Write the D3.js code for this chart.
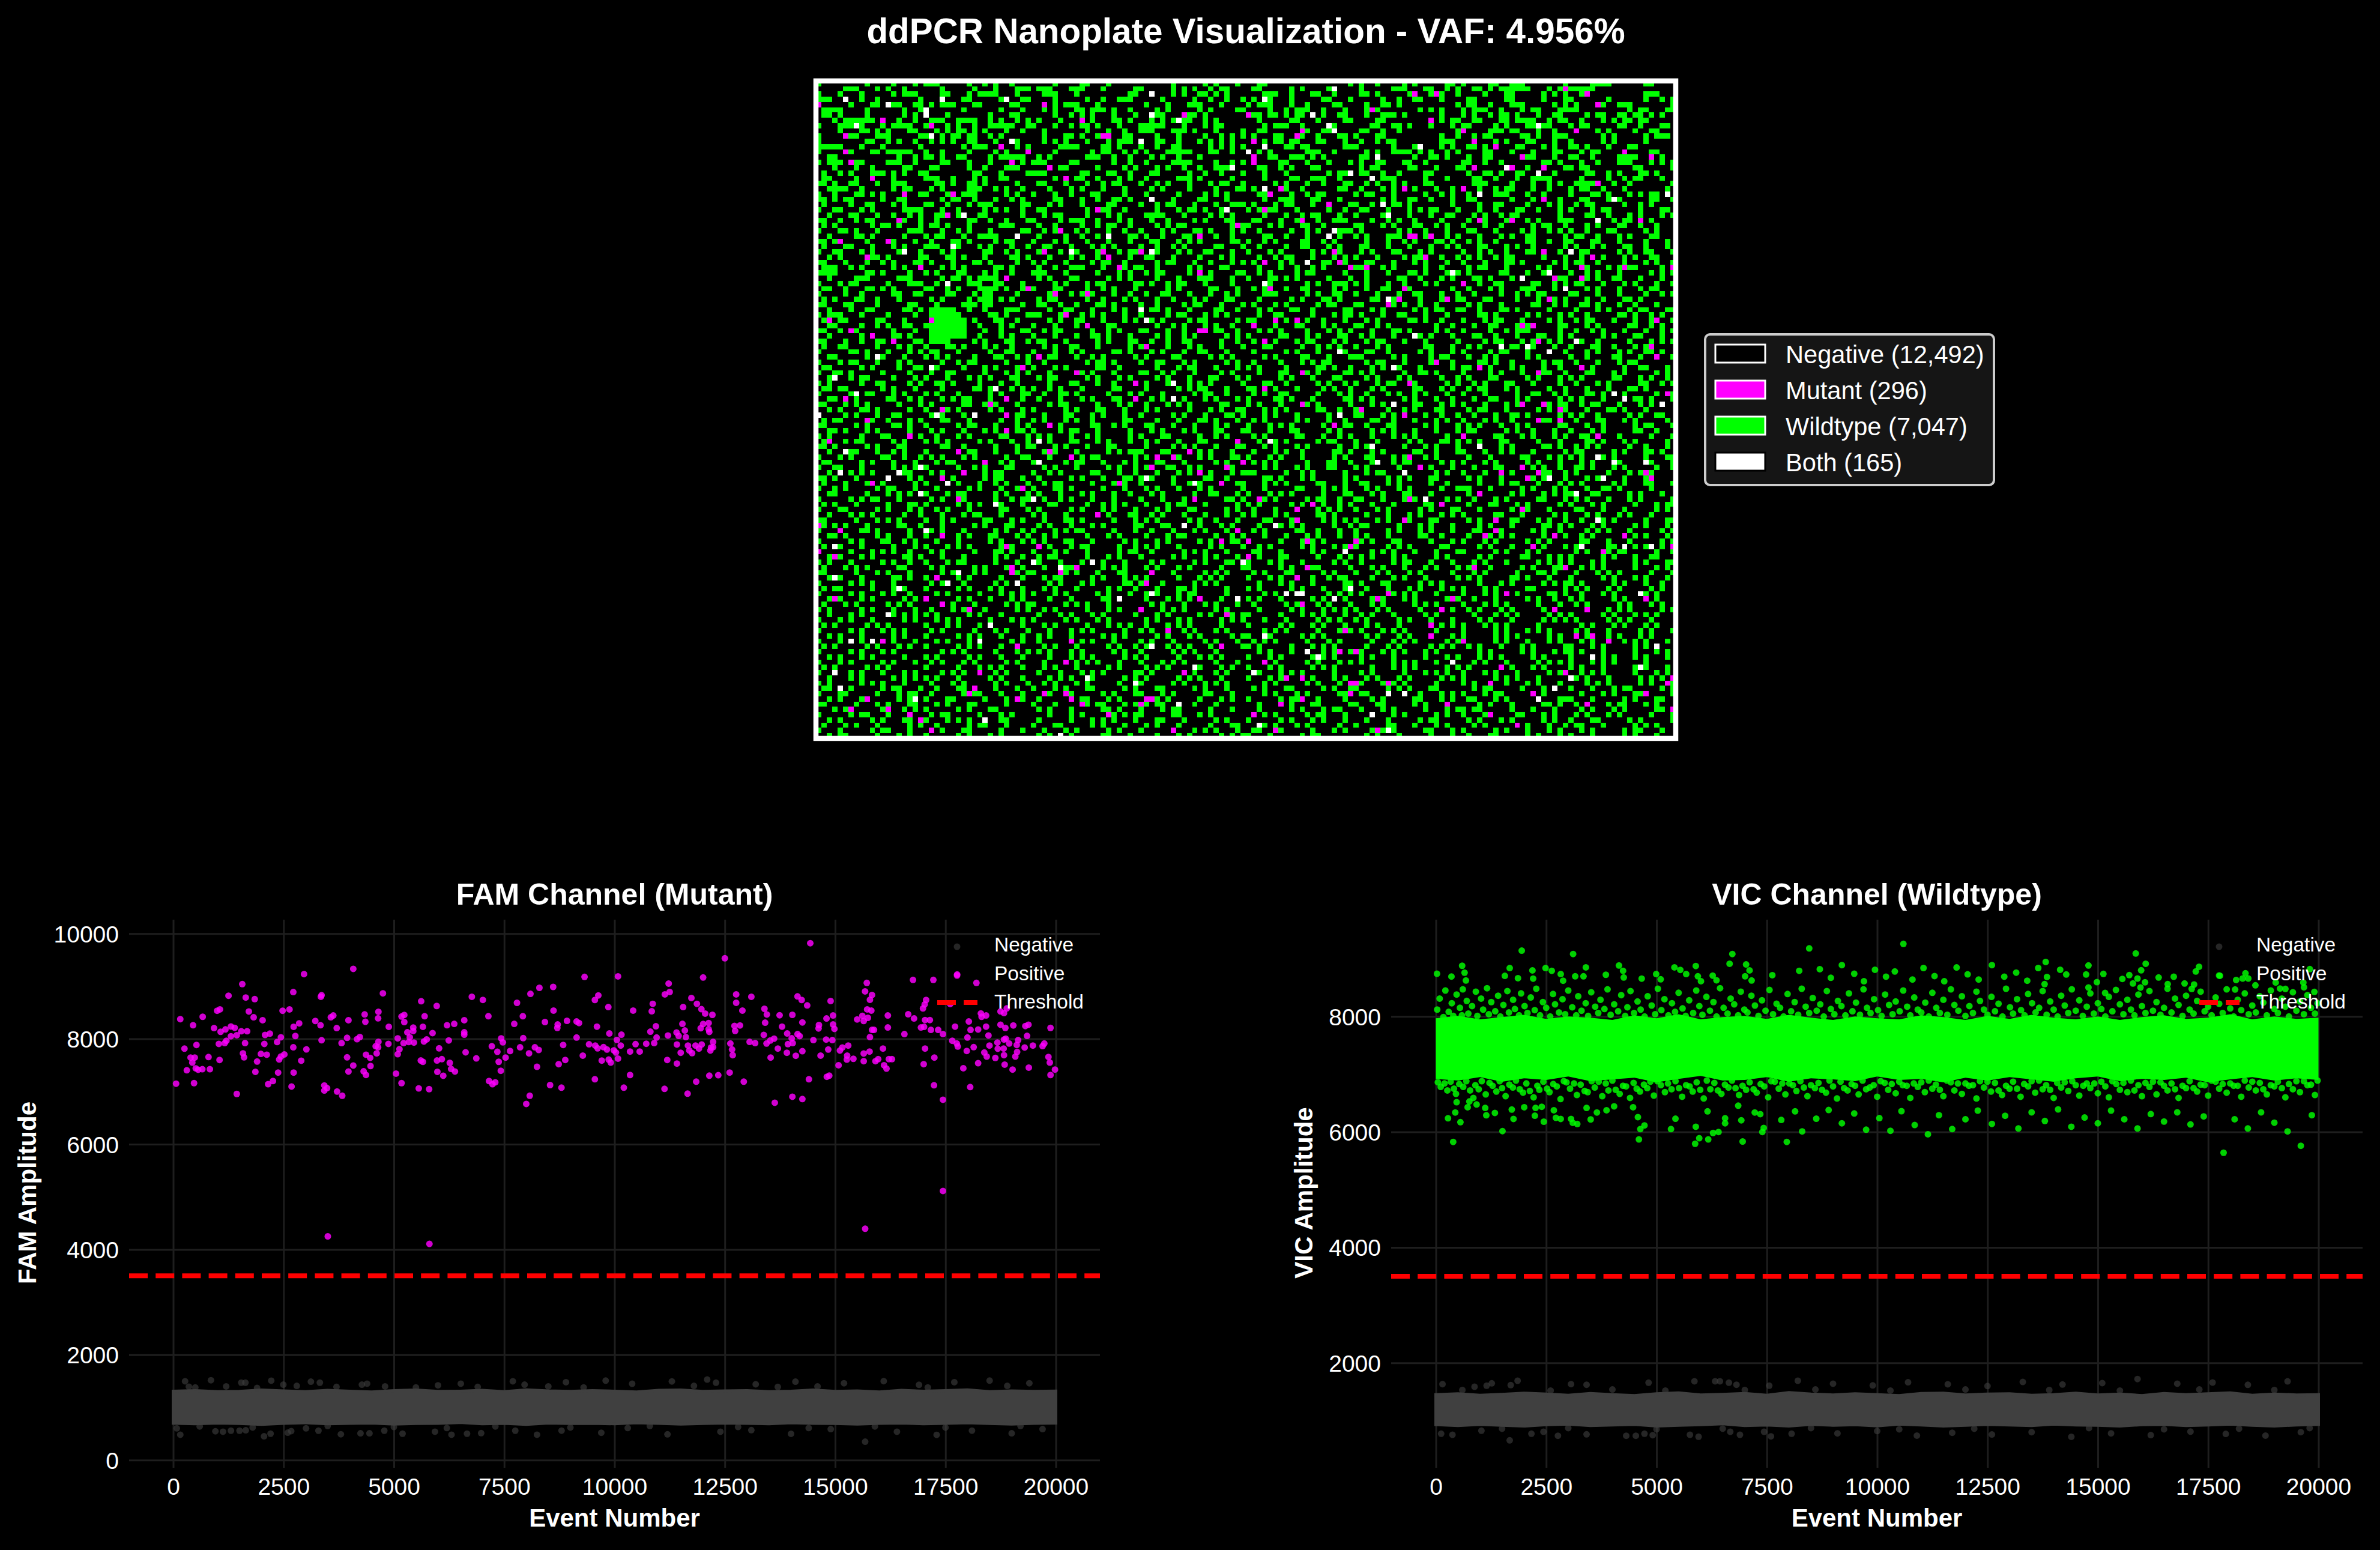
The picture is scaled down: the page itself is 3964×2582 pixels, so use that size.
<!DOCTYPE html>
<html>
<head>
<meta charset="utf-8">
<title>ddPCR Nanoplate Visualization</title>
<script src="https://cdn.jsdelivr.net/npm/d3@7"></script>
<style>
  body { margin: 0; background: #000; }
  svg { display: block; }
  text { font-family: "Liberation Sans", Arial, sans-serif; fill: #fff; }
</style>
</head>
<body>
<svg id="chart"></svg>
<script>
// Legend entries of the plate
const wellLabels = ["Negative (12,492)", "Mutant (296)", "Wildtype (7,047)", "Both (165)"];
const wellColors = ["#000000", "#ff00ff", "#00ff00", "#ffffff"];

// Mutant wells: column, row
const mutantWells = [35,37,39,39,44,40,50,40,46,44,2,45,21,45,50,46,6,47,71,47,10,48,14,49,61,50,41,52,38,54,48,55,59,57,5,60,35,60,59,60,32,61,23,62,35,63,9,64,43,65,35,66,17,67,2,68,78,68,26,70,43,70,69,70,47,71,63,71,66,71,31,72,62,73,76,73,27,74,71,74,23,75,10,76,56,76,75,76,38,77,26,79,70,79,52,82,0,84,4,85,78,85,23,86,75,87,35,88,41,88,0,89,3,90,36,92,48,92,36,93,45,93,62,93,22,94,61,95,3,98,20,98,71,98,23,99,28,100,60,100,76,101,65,104,12,106,47,106,37,107,75,107,46,110,30,112,68,112,29,115,28,116,42,116,46,116,9,117,37,117,47,117,61,117,62,117,49,118,60,118,6,119,13,119,17,120,54,120,19,121,21,123,66,123,
109,63,134,64,138,64,96,65,120,67,145,67,110,71,79,72,112,73,131,73,127,74,134,74,154,74,132,75,155,75,123,78,82,79,110,79,92,80,116,80,89,81,131,81,89,83,109,83,126,83,126,85,124,86,137,86,150,86,80,87,91,87,100,87,99,88,133,88,159,88,146,89,80,90,91,92,122,92,139,92,89,94,106,97,128,97,104,98,118,98,154,98,90,99,116,100,137,100,143,100,114,103,98,104,114,105,141,105,144,105,120,106,147,106,97,108,100,108,83,110,127,111,139,112,87,113,90,113,159,113,99,114,100,114,106,114,125,114,158,114,99,116,133,116,154,116,90,117,86,118,117,118,143,118,159,119,81,120,125,120,130,122,85,123,104,123,
139,1,111,2,115,2,143,2,145,4,103,5,68,6,80,6,114,7,90,9,120,9,141,9,89,10,54,10,81,11,122,11,126,12,150,13,81,14,131,14,155,14,81,15,122,16,129,16,135,16,145,19,86,20,109,20,120,20,84,21,135,22,95,23,83,24,90,26,123,26,129,26,153,26,78,27,71,29,110,29,111,29,114,29,60,32,96,32,135,32,54,33,113,33,144,33,83,34,97,34,56,35,99,35,102,35,142,35,150,35,159,35,71,36,137,37,142,37,120,38,84,39,109,39,108,41,117,41,136,41,106,42,85,45,89,45,156,45,81,46,131,46,133,46,72,47,83,49,134,49,61,50,155,50,156,52,115,53,123,54,142,54,90,55,134,55,59,57,110,57,83,58,158,59,59,60,90,61,131,61,135,61,101,62,138,62,
0,4,42,4,12,7,49,7,21,8,5,10,53,10,34,12,5,13,39,13,6,15,36,15,43,16,10,18,46,18,16,21,25,21,52,24,24,25,15,26,45,28,4,30,13,30,42,32,53,32,9,33,19,35];

// Wells positive in both channels: column, row
const bothWells = [24,38,60,43,61,45,11,52,21,54,3,56,66,57,33,58,7,59,66,60,0,63,22,63,29,63,41,68,5,70,41,72,19,73,4,74,15,74,13,75,61,75,24,76,70,76,19,78,40,79,33,80,68,84,20,85,3,88,40,91,51,91,45,92,26,93,3,94,24,95,37,95,15,96,62,97,56,98,78,98,13,101,32,103,6,106,10,106,30,106,62,107,70,111,3,112,50,113,59,114,4,115,18,117,67,118,31,121,45,124,
97,63,84,68,103,69,123,69,145,71,104,72,148,72,154,72,109,74,136,75,146,75,141,78,113,79,145,83,85,84,142,88,150,88,155,88,98,89,79,91,99,96,87,97,89,97,90,97,153,97,96,98,83,105,156,107,91,108,93,109,144,109,118,110,153,111,81,112,140,113,137,115,106,116,109,116,134,117,103,120,82,122,106,123,
96,1,62,2,83,3,62,6,92,6,67,7,95,8,134,8,96,9,60,11,83,12,112,12,80,13,104,14,77,16,128,16,99,17,134,17,103,18,83,20,123,21,158,21,62,22,148,22,105,23,76,24,106,25,145,26,96,28,54,29,95,29,62,32,140,32,91,34,118,36,136,36,131,37,83,38,139,39,106,41,60,43,61,45,111,48,141,49,127,50,132,50,97,51,136,51,107,54,66,57,148,59,66,60,150,60,107,61,157,61,
5,3,23,3,35,3,13,4,20,5,20,6,7,8,21,10,36,11,27,25,37,29,25,31,16,32,47,32];

// Wildtype wells: . none, g wildtype
// Spaces only group the row in blocks of 20 wells
const plateRows = [
// row 0
"g........g....g...g. ggg.....g..g.g..g.. .....g....gg...g.... .......g.....g.g...g ...gg...............g .g..g....g.g.....gg. g....gg..ggg.......g ....gggg......gg....",
".....ggg...g.g..g... ...g.....g...g...gg g.ggg...ggg...g..... gg.....g.g.g..g.gg.. ..gg.....g.g....g.... .g.....ggg...gg..g.g ..gg.g.gggggg...g.gg ggggg...............",
"g...g...g.....g.ggg. ...gg...g.gggg...g.. ..ggg...g.........gg ......g.g..gg.g.g... ...ggg..g...gg..g... .gg.g.....g...g.g..g ....g...gg.....g.g.g ..gg..........ggg...",
"ggg.....g..g.......g .......gg.....g...gg ....g.....g..g..ggg. ....g.....g..g..g..g .g..g...g.....gg...g .....g..g..gg...g... .gg.....gg.....g...g g......g......g..g.g",
"......g...gg.ggg..gg .g.ggg...gg.....gg.. ....g.ggg...g....... .g...g...ggg...g.... g.ggg...g..g....gg.. ..g..gg.g..........g .gg..g...ggg.....g.g .g...gg..ggg.......g",
".gggg....g......g..g .......g......g...g. ..g.g...gg.ggg.g..g. ...g.g.....g.g....gg ....g..g.ggg..g...g. ..ggg.......g.g.g... g.ggg..g...g.gg...gg gg.........g.gg...gg",
".gg.g....g......g.g. ....g.......g...gg.. ....g..g.g.g...g...g ...gg...ggg.g....... .gg.gg.g.gg.g.g..gg. ..g..ggg.g......g... g.g..g.gg.g...g..gg. ...g.gg..gg.gg.g.g..",
"...g.gggggg....g..g. .ggg..gggg..g.g..g.g .g...g.....g...gg.g. ..g.g.gggg..g.g..... ..g.....gg...g....gg ....gg..........g.gg ..gg...gg.gggg..g.gg ..g...g.g.gg.gg.....",
"g...ggggg...g.gggg.. g...g.g..g..ggggg..g g...g..g.gg.g...g... ggggg...g...g.gg.... ...g.ggg..g....gg... ...gg..gg.g...g...g. gg....g.g...gg.gg... g.gg.....gg..g...gg.",
"....g...gg.g.g...gg. ..g.g.gg.g.g...g..g. ..g.......g...g..g.. ggg...ggg.g...g....g ..gg.......g..gg.... .gg..g..g..........g g....ggg.gg...g..g.. .....g.g....g..gg...",
// row 10
"g.....gg...ggg.....g g..g.gg.gg..g.g..... ..g...gg.g..gg...gg. ...g...g....g..g.g.g .g...gg...g..g...gg. g...gg..........g..g ..g.gg.....gg.g..ggg ......g.g.....g.ggg.",
"g........gg..g.g..g. .g.g.g..gg...g..gg.. ..g.g.g...g...g.ggg. ...gg..g...g.g.g.g.. ...g.gg.gg...gg...g. .g..g.gg........ggg. ..g...g.g...gg...g.. g.....g.g.....g.....",
"ggggg...g...g......g .......g.ggg..g..g.g .....gggg....gg.g... g..g..gg.....g.g.g.g ...g...gg.gg......gg g......g...g....g.g. .gg.g.....gg...g.g.. gg.g...g...gg.......",
"g.....g...gg.ggggg.. g..g....g....g.g.... ....g......g.gg..g.g .g...ggggg...gg..g.. ..g.g......ggg..g... ..g.g..gggg.g.g..g.g ....gg...g...g...gg. ..g.gg.........gg...",
"..gg...........g..g. gg.g..gg....g.ggggg. .g.g......ggg..g..g. ..g.g..g...g........ ....gg..ggg.g.g..... .gg.g......g..gg.g.. .g..gg.....ggg...g.. gg..g....gggg....g..",
"g.ggg..gg....ggg..g. ...gg...g...g.....g. ggg....gg......g..g. .g....gggg....g..g.g ......gg...g...g...g .g..gg...gg..g...... gg..g..g.......gg.g. ..g..g...ggg...g.g.g",
"...g...g..g.....gg.. .gg.....g..g...ggg.. ...g.gg.....g....g.g ...g.g..g..g..gggg.. ..gg..g.g...gg...... .g.gg.....gg...g...g g.g......g..g..g...g g.gg........gg.....g",
".g..g.g...ggg.g.g..g g........gg...g....g ggg......gg...gg..g. ..gg.....g..g..g...g ...g...g.......g.gg. .gg..g..g....gg..... .g..gg.g..gg.....g.. ...gg..g.g...gg.g...",
".gg....g......g..... ggg..g...g.g..gg.... ....g...gg..g...g.g. .g.....ggg.g.....g.. ...g....gg..ggg..g.. ...g.ggg.....g...g.. ..gg..g...g..gggg... ..g....g..g.gg...g..",
"gg.g..gg...g..ggg... ..gg.g..gg.g.....g.. .gg...g...g..g.gg... g..g.g...g...g.gg..g .....g.g...g..g...gg ..g.g..g.g...gg..... ..ggg....g...g..g.g. .gggg...g..g.......g",
// row 20
"..gggg..g.....g.gg.. .g.g....ggg..g.g..g. ...g...g.g...g...g.. ..g.g....g....g...gg .g....gg..g......gg. .g...g.g...g...g..g. ...g..g.gg...g..g... g.gg..g...g.......g.",
"g..g...gg.g.g......g g...g..ggg.....g.g.. g...g..g...gg....g.. .g.....g....g.g.g... ..ggg...g..g.gg..... g.gg...g.....g..g.g. .g....ggg...g..g.... g...gg.g...g.g.gg...",
"gg.g.gg.....g..gg... ...g.gg..g...g..g.g. ....gg...g..g..gg.g. ..g...g....gg...g... ...g..ggg...gg...g.. .....g.g..gg..g...g. .gg......g...g.g..g. ..gg...g.g.....gg..g",
".g....g..gg...g.g... gg..g...g.ggg.....gg ...g.g...g....gg.... g..g.gg...g...g..ggg .g...g.gg...g......g g..g...gg.g.......g. ...g..gg....g...g.g. .g.gg.....g..g.g....",
"g..gg...g.g.....gggg ...g..g....g.g.g..g. .gg.......g..gg..g.. ...g...g.gg.g..g.... g.g.gg...g.....g..g. .gg...g...g.g.gg...g ...g..g...gg..g...g. g...g.gg.....g...gg.",
"..g...gg...g..g..g.g ..gg..g...gg......g. ..g.gg....g...g.g... .gggg...g....g.g.g.. ...g...g..g.gg...g.. g....gg...g...g..gg. ..g.g..g.gg.......g. ...gg..g...g.g...g.g",
"gg..g..g.gg.....g..g ..g.....gg..g..g...g g....g.ggg..g...g.g. ..g..g....g.g...gg.. .gg...g..g...g..ggg. ...g..g.g..g....g... .g.gg...g...g.g...gg g....g..g.gg...g....",
".g.g......g.gg.g...g .gg.g...g.....ggg... .g..g....g..g.gg..g. ...g.g.gg........g.g g...g.g...gg..g..... gg...g.g...gg..g.g.. g...g..g.....g.gg..g ...g.g...gg..g..g...",
"g...gg.g...g.....ggg ...g..g.g...g.....gg ..g.g...g.g...g..g.. g...g.g...gg.g...g.g ..g.....g..g.g...ggg .g......g.g..g...g.. .gg...g....g.g..g.g. g..g...gg.....g.g...",
"..g....gg.g.....g... g.gg...g..gggg...g.. .g....g..g..g.g...gg .g..g...gg....g..g.. ...gg..g...g...g.g.. g.g...ggg....g...g.g ...g...g.g..gg.....g .gg..g...g.g...gg...",
// row 30
"gg.g.....g...gg...g. .g...gg.g....g.gg... g...g.g...g...g...g. ..gg...g.g.g.....gg. g..g.g....gg..g.g... ..g...g..g.g...gg.g. .g.g..g.....gg..g..g g...gg...g....g...g.",
".g...gg...g...g.g... ggg...g...g.g...g..g ..gg...g...g.g.g.... g..g..g.g.....gg...g ..g....g..gg...g.g.. .gg...g...g...g..g.g ...gg...g.g..g.....g .g..g.g...gg..g...g.",
"g..gg...g.g....gg..g ...g.g.....gg..g.g.. .g...g.gg...g...g.gg ...g...g.g..gg...g.. g...g.g.....g.g.gg.. .g.g...gg...g.g..... g..g.g..g...gg....g. ..gg.....g.g..gg...g",
"..g.g.....gg.g.....g g...gg.g...g....gg.g ...g...g.g..g.g...g. .gg...g....g...g.g.. ..g..g.gg...g...g.g. g...g....g.gg...g..g .g.g..g.gg.....g...g ..g...g...g.g..gg...",
"gg...g...g..g.g...gg .g...g...gg.g....g.. g.g...g....g.gg..g.. ...g.gg...g..g...g.g .g....g.g.....gg..g. ..gg...g...g.g...g.. g...g...gg.g.....g.g .gg..g....g...g.g..g",
".ggg..g.g.....g.g..g ...g.g.g.....gg.g... .g..g..ggg...g...g.g g..g.....g.g...gg... ..g...g..g..g.g....g gg...g.g.....g..g... .g.gg...g.....g.g..g ...g...g.g.gg....g..",
"gggg.....gg.g....g.. g.g...gg...g.g..g... ggg...g.....g...g.g. .g.gg....g...g....gg ..g.g....g.gg.....g. ..g...g...gg.g...g.g .g.....gg...g..gg... g..g.g...g.....g.g.g",
"..g....ggg.....ggg.. ...g.gg.g.gggg...... .g.g...gg.....g.g.g. ...g...g...ggg...g.. g...gg.g.g.....g...g ..g.....gg..g...g.g. ..gg.g...g.g......gg ...g.g..gg...g...g..",
"g...g.gg.....g...ggg ..g.g...ggg..gg...g. ....g.g...g.gg.....g g.g..g.gg...g....g.. ...gg......g.g..ggg. g.g...g..g...g.g.... ...g..gg.....gg..g.g .gg...g...g.g...g..g",
".gg..g...gg.g.g..... gg..g.g...gggg.g..g. g...gg....g..g.g...g .....g.g.....gg...g. .g.g...g..gg....g.g. ..g..gg...g.......g. .g...g.g...ggg...g.. ...g.g...g...g.gg...",
// row 40
"g....g..g.....gg..gg ....gg...g.gg....g.. ...g...g.ggg...g..g. .g..gg...g...g..g.g. ...ggg.....g.g..gg.. g...g...g..gg...g..g ..g....g..g.g.gg.... gg...g...g....g..g.g",
".g.g...gg..g...g.... .g.g....g.ggg.g.g... .g.gg.....g..g...g.g ...g..g...g.g...gg.. ..g.....g.g...gg.g.. ...gg..g....g...g..g g...gg....g...g..g.g ...g..g...gg.g......",
"gg...gg....g.....gg. ..g....ggg.gg.....g. .gg..g..g...gg.g.... g..g....g.gg...g...g .g...g.g.....g.gg... gg....gg.g..g..g.... .g.g...g.....gg..g.g ..gg.g...g..g...g...",
"..g...g..gg.....gg.g .ggggg..g..g...ggg.. ...g..gg...g...g.g.. ..gg.g...g....gg..g. ..g.g...gg..g.....gg ...g.g.....g.g.gg..g g..g...gg.g.....g... .g...g.g...g.gg...gg",
"g.ggg...g....g....g. .gggggg.....gg.g...g gg...g...g.g.g...g.. g....g.gg...g.g.g... ..g..gg.....g...g.gg .g...g..gg...g...g.. ...gg.g.....g.g...g. g..g.....gg.g..g.g..",
".g..gg.....gg...g... .ggggggg.g...gg..g.. ...g.g..gg...g...g.g ..g.g....g.gg.....g. gg...g.g...g..g...g. ..g.g.....gg.g..g... g...g.gg...g....g.g. .g.gg...g...g..g...g",
"..gg....g..g.g..gg.. gggggggg..g...g.g... g...g...g.g...gg.... ...g..g.g...g.g..g.. .g...g...gg...g.g... gg..g.g........g..g. ..g..gg...g.g.....gg ...g.g.....gg..g.g..",
"gg..g.gg......g...g. .ggggggg...g..g...gg ..g.gg.....g..g.g... gg...g..g.....gg..g. ..g.g.g....g...g.g.g ...g...gg.g....g.g.. g....g..g.ggg.....g. .g..g.g...g...g..g.g",
"..g.....g.g...gg.g.. .ggggggg..g...g.g... g...g...g..gg.g...g. ...g.g..g.g.....g.g. g.....gg...g.g...gg. .g.g...g....g.g...g. ..gg..g...g...gg..g. g.....g.g...gg...g..",
"gg...g..g..gg.....gg .gggg....g.g...gg..g .gg...g.....g.g...gg ..g..g..gg.....g..g. .g...g...g.gg...g.g. ..g.gg...g...g.....g ....g.gg...g.g..g.g. .gg..g.....g...g.g.g",
// row 50
".g..gg.....g...g.g.. g...gg.g...g.g..g... ..g.g..gg...g.....g. gg...g...g.g...g...g ...gg.....g..g.g.g.. g...g.g......gg...g. .g.g.....gg..g...g.. g...gg..g...g.g.....",
"g.....gg.g...g...g.g .gg...g.....g..gg... g...g..g.g.....gg.g. ..g.g...g..gg...g... .g.....g.g...g...gg. ..gg..g.....g.g...g. g....g.gg...g...g..g ...g.g...g.g..gg.g..",
"..gg.....g.gg...g... g.g.g....g...gg..g.g ...gg...g..g.g.....g .g....gg.....g.g.g.. ...g.g....gg...g...g gg.....g.g....g.gg.. .g..g.g.....g.g..... g..g....gg...g..g..g",
"g...g.gg...g...g.g.. ...g..g.gg.....g...g ..g.......g.gg.g.... g..gg...g.g.....g.g. .g....g...g.g.gg.... ..g.gg...g....g...g. ...gg.g..g.....g.gg. .g...g...g.gg.......",
".gg.....g.g....g..gg ..g....g...g.g...g.. g...g.g.....gg..g... ...g...g.gg...g...g. g.g....g.....gg.g..g ...g.g.gg...g.....g. gg...g...g.g...g..g. ..g.g.....g..gg...g.",
"g..gg.g.....g....g.. .g..gg.....g...g.g.g ...g....gg.g...g.... gg..g.g...g....g.g.. ..g...gg...g.g....gg .g.g.....g..gg.g.... g....g.g...g...gg..g ...gg...g.g.....g.g.",
"..g...g.gg....g...g. g...g...g.g.g...gg.. .g.gg.....g.g...g.g. ...g.g...g...gg...g. g.....g.g...g...gg.. ..g.g...g.g.....g..g .g...gg.....g.g...g. g.g.....gg...g.g..g.",
"g.g.....g..gg....g.g ..gg.g....g...g..g.. ...g...gg...g..g...g .g...g...g.g.g.....g ...gg..g.....g.g..g. g...g.gg...g.....g.g ..g.g...gg...g....g. .g...g.g.....gg..g.g",
".gg.gg......g.g...g. ...g.....gg.g...g.g. g..g.g...g.....gg... .g.....g.g.gg...g... gg...g...g....g.g..g ...g.g.....gg...g.g. .g.gg...g.g.....g..g ...g...g...gg.g.....",
"g.....g..gg...g.g... g.g...g.....g.g...gg ..g..gg.g.....g...g. g...g.....g.gg..g... .g.g..gg.....g...g.g ..g...g.g..g.g...g.. g...g.....g..gg..g.g ...gg.g...g.....g.gg",
// row 60
"..gg...g.....gg..g.g ...g.g.gg...g.....g. .g...g...g.g...gg... ..g.g...g...g.g...g. g....gg.g...g.....gg .g.g.....g.g...g..g. ..g..gg...g.g.....g. g.g...g.....gg.g...g",
"gg...g.g.g.....g...g .g.....gg..g.g...g.. ...g.gg.....g...g.g. .g...g.g.g.....gg... g.g...g...gg.g.....g ...g.g.....gg...g.g. g...g...g.g.....g.gg ..g.gg...g...g.g....",
"..g.g...gg.g.....g.. g..gg.g.....g.g...g. g.....g.g...gg...g.. .g.g.....g...g.g..gg ...g.g.g.....gg..g.. g.....g..g.g...gg... .g.gg...g.....g.g..g ...g...gg.g...g.....",
"g....g.g...g..gg.... .g.g...g.g.....g.gg. ..g...gg...g.g...g.. g.....g.g...g...gg.g ...g.g...g.....g.g.. gg...g.g.....g..g..g ..g...g..gg.g.....g. g.g..g.....g.g..gg..",
".g.gg.....g..g...g.g ...gg...g.....g..g.. g.g...g.g..g.....gg. ...g...g...gg.g...g. .g.g.....g.g...g..g. ...gg..g...g...g.g.. g...g.g..g.....gg... .g...gg...g.g.....g.",
"gg.....g.g....gg.g.. g.....g.gg...g...g.g ...g.g.....gg..g.g.. .gg...g...g...g.g... g...g.g.g.....g...gg ..g...gg.....g.g...g .g.g...g..g.g.....gg ...g..g.....g.gg...g",
"..gg.g...g.g.....g.. .g.g...g...g.g...gg. g....g.gg...g.....g. ..g.g...g.g...gg...g g...g...gg.....g.g.. ...g.g.g...g...g...g .gg.....g.g..g...g.. g...g.g.....gg..g...",
"g.g.....g...gg...g.g ..g...g.g.....gg...g .g.g...g..g.g.....g. g...gg.....g..g.g... .g.g.....gg...g..g.g ...g...g.g.g.....g.. g.....gg...g.g...g.g ..gg.g...g.....g...g",
".g...g.gg.....g.g... g.g.g.....g.g...g..g ...g...gg...g.g...g. .g.g...g...gg.....g. ..g..g.g.....g.gg... g...g.....g.g...gg.g .g.g...gg.....g...g. ...gg.g...g.g.....g.",
"gg.g.....g.g...gg... ...gg..g.....g...g.g g...g.g...g...gg.... .g....g.g.g...g...gg ...g.g...g.g.....g.. g.gg.....g...g.g...g ...g...g.g.....gg.g. .g.g.g.....g..g...g.",
// row 70
"..g...gg...g..g.g... g.....g.gg...g...g.. ..g.g...g.....g.g.gg g...gg.....g.g...g.. .g...g.g..g.....gg.g ...g.g.....gg..g...g g...g..g.g...g.....g .gg.....g.g...gg.g..",
"g...g.g.....gg..g..g .g.g...g.g.....g..gg ...g...g.g.gg......g .g.....g...g.g...gg. g...g.g...g.....g.g. ..gg...g.g...g.g.... .g...g.....gg...g.g. g.g...g.g.....g...gg",
".gg.....g.g...g...g. ..g.gg.....g..g.g... g.....g.gg...g...g.g ...gg...g.....g.g... .g.g.g.....g...gg..g ...g...g.gg.....g.g. g...g.g.....g.g...g. ..g.g...gg.....g...g",
"g..gg...g.....g.g.g. g.....g..g.g...gg... ..g.g...g.....g.g..g .g...gg..g.g.....g.. ...g.g...g.g...gg... g.g.....g...g.g...g. ..g...gg.....g.g..g. .gg.g...g.g.....g..g",
"..g...g.g.g.....gg.. .g.g...g...g.gg..... g..g.g.....gg...g..g ...g...g.g...g...g.g gg.....g..g.g.....g. ..g.gg...g.....g.g.. g...g..g.g.....gg..g .g.....g...g.g.g....",
"gg.g...g.....g...g.g ...g.g.....g.gg...g. .g.....g.g...g...gg. g.g...g.....gg..g... ...gg.g...g.g.....g. g.....g.g.g...gg.... .g.g...g.....g.g...g ...g.gg...g...g.....",
".g...g...gg.g.....g. g...g.g...g..g.g...g ..g.gg.....g...g.g.. g.....g..g.g...g..gg ...g.g.g.....gg...g. .gg...g.g.....g..g.. ...g...g.gg...g...g. g.g.....g.g...gg...g",
"g..g.g.....g.gg...g. ..g.....g.g...g..gg. g...gg.g.....g...g.. .g.g...g...g.g.....g ...g.....gg...g.g.g. ..g.g...g.g.....g..g gg...g.....g.g...g.g ...g..gg.g.....g....",
"..gg.....g...g.g.g.. g...g.gg.....g.g...g .g...g...g.g...g..g. ..g.g.....g..gg...g. g...g.g.g.....g...gg ...g.g...gg...g..... .g.g.....g.g...g.g.g g...gg.....g.g...g..",
"g.....g.g.gg...g.... .g.g...g.....g..g.gg ..g..g.g...g...g.... g...g...g.g.....gg.g ...g.g.....g.gg..g.. gg...g...g.g.....g.g ..g...g.g.....gg...g .g.g...g...g.g.....g",
// row 80
".g.g...g.....g...gg. g.....g.g.g...g...g. ...gg.....g..g.g.g.. .g...g.gg...g.....g. g.g.....g.g...g..g.g ...g...g.....gg.g... .g...gg...g.g.....g. g...g.g.....g...g.gg",
"g...gg.....g.g...g.g ..g.g...g.....gg...g .g.....g.g...g.g...g ...g.g...gg.....g.g. .g...g...g...g.g.g.. g...g.g.....g.g...gg ...g.....g.gg...g... .gg...g...g.....g.g.",
"..g...g.g.g.....g..g ...g...g.gg...g..... g.g...g.....g.g...gg ..g.g...g...g...g..g .g...g.g.....gg.g... ..g...g...g.g...g.g. g.....gg...g.....g.g ...g.g...g.g...g....",
"gg.....g...g.g.g.... g..g.g.....gg...g.g. ..g...gg.g.....g...g .g.g.....g.g..g...g. ...gg...g.....g.g.g. g...g.g...g...gg.... .g.g.....gg...g.g..g ..g...g.g.....g...gg",
".g.g.g...g.....gg..g ...g.....g.g...gg... .g.g...g...g.g.....g g...gg.....g...g.g.. ..g...g.g.g.....g..g .gg.....g...g.g...g. ...g.g...g.....gg.g. g...g.g.....g.g...g.",
"g...g...gg.g.....g.. .g.g...g.....g.g..g. g...g.g.gg.....g...g ..g...g...g.g...g.g. .g.g.....gg..g...g.. g.....g.g...g.g...g. ..gg...g.....g.g..g. ...g.g.g...g.....g.g",
"..gg.g.....g.g...g.. g.....g.g...gg...g.g ..g.g.....g...g.g... .g...g.gg.....g..g.g ...g...g...g.g...g.. g.g...g.....gg..g... .g...g.g.g.....g...g ..g.g.....g.g.g...g.",
"g.....g.g...gg..g.g. ..g...g.....g.g...g. g.g...gg...g.....g.g ...g.g.....g.g...gg. g.....g...g.g.g..... .g.g...gg.....g...g. g...g.g.....g.g.g... ..gg...g...g.....g.g",
".g.gg...g.....g...g. g...g.g.g.....g.g... ...g...g.gg.....g..g .g.g...g.....g.g...g ..g.g.....g.g...g.g. g.....g.g.g.....gg.. ...g.g...g...g.g...g .g.....gg...g.g..g..",
"g.....g...g.g.g..g.. .g.g.....g...gg.g... g...g.g...g.....g.gg ..g.....g.g.g...g... .gg...g.....g.g...g. ...g.g.g...g...g...g g.....g.g...g.g..... .g.g...g.gg.....g..g",
// row 90
"..g.g...g.g.....gg.g ...g...g.....g.g..g. .g.gg.....g...g.g... g.....g.g...g.g...g. ..g...gg.....g...g.g .g.g...g.g.....g.g.. ...g.g.....gg...g.g. g.....g.g...g..gg...",
"g.g...g.....g.g..g.. g...g.gg.....g...g.. .g...g...g.g.g...g.. ..g.g.....g.g...gg.. g...g.g...g.....g.g. .g.....g.gg...g...g. ..g.g...g.....g.g.g. g...g.g.....g.g...gg",
".g...g.g.g.....gg... .g.g.....g.g...g..g. ..g...gg.....g.g.g.. .g.g...g.g.....g...g g.....g.g...gg.....g ...g.g...g...g.g...g .g...g.....g.g...gg. ..g.g.g.....g...g.g.",
"gg.....g...g.g...g.. ...g.g...g.g.....g.g g.....g.g...g...gg.. ..g...g.....g.g.g... .g.g...gg.....g.g... g...g.g...g.g.....g. ..g.g.....g...gg.g.. .g...g.g.g.....g...g",
"..g.g...g.....gg.g.. g.g...g.g.....g...g. ..g.gg.....g.g...g.g .g.....g...g.g.g.... g...g.g.....g..g.gg. ...g...g.g...g.....g .g.g.....gg.g...g... g.....g.g...g.g...g.",
"g.....g.g.g...g..... .g.g...g.....g.g.g.. ...g.g...g.g.....gg. g...g.....g.g.g..... ..g...g.g...g.....gg .g...gg.....g.g.g... ...g...g.g.....g.g.g g.g.....g.g...g..g..",
".g.gg.....g...g.g... g.....g.g...g.g...g. ..g.g...g.....g.g..g ...g...gg.g.....g... g.g.....g.g...g...g. ..g...g...g.g...g.g. g...g.g.....gg.....g .g.g...g.g.....g.g..",
"g.....g.g...g.g..g.. ..g.g.....g...g.g.g. g...g.g.....g.g...g. .g.g...g.gg.....g... ...g.g...g.....g.g.g .g.....g.g.g...g.... g...g.g...g.....gg.g ..g...g.g.....g.g...",
"..g.g...g.g.....g.g. g.....g.g...g...g.g. ...g...g.....gg.g... .g...g.g.g.....g..g. g.g...g.....g.g...g. ...g.g...g.g.....g.g ..g...g.....g.g..g.. g.g.....g.g...g.g...",
".g...g.g.....g.g.g.. ...g.g...g.....g.g.g g.....g.g.g...g..... ..g.g...g...g.g...g. .g.....g.g...g.g...g ...g.g.....g.g.g.... g...g.g.g.....g...g. .g.g.....g.g...g.g..",
// row 100
"g.g.....g.g...g...g. .g...g.g...g.....g.g ..g.g.....g...g.g... g...g.g.g.....g.g... ..g.....g.g...g.g.g. g...g.g.....g...g.g. .g.g...g.g.....g.g.. ...g...g.g.g.....g.g",
"..g...g.g.....g.g.g. g.g.....g.g...g..... .g...g.g...g.g.....g ...g.g.....g.g...g.g g.....g...g.g.g...g. .g.g...g.....g.g.... ..g...g.g.g.....g.g. g.....g.g...g.g.g...",
"g...g.g...g.....g.g. ..g.g.g.....g...g.g. g.....g.g...g.g..... .g.g...g.g.....g.g.g ...g...g.....g.g.g.. g.g.....g.g...g...g. ...g.g...g.....g.g.g .g.....g.g.g...g....",
".g.g.....g.g.g...... g...g.g...g.g.....g. ..g.g.....g...g.g.g. .g...g.g.g.....g.... g.....g.g...g.g...g. ..g.g...g.....g.g.g. g...g.g.g.....g..... ..g.g...g.g...g.g...",
"g.....g.g...g.g.g... .g.g.....g...g.g...g ...g...g.g.g.....g.. g.g.....g.g...g.g... ...g.g.g.....g...g.g .g...g.g.g.....g.... g.....g.g...g.g.g... .g.g...g.....g.g...g",
"..g.g...g.....g.g... g.....g.g.g...g...g. .g.g...g.....g.g.g.. ...g.g...g.g.....g.g g...g.....g.g.g..... ..g.g...g.g...g...g. g.....g.g.g.....g.g. ...g...g.g...g.g....",
"g...g.g.g.....g...g. ..g.g...g.g.....g.g. .g.....g.g.g...g.... g.g...g.....g.g...g. .g.g.g.....g...g.g.. ...g...g.g.g.....g.g g.....g.g...g...g.g. ..g.g.....g.g.g...g.",
".g.g.....g.g...g.g.. g.....g.g.g...g..... ..g.g...g.....g.g..g .g...g.g.g...g.....g g.g.....g...g.g.g... ..g...g.g.....g.g.g. .g.g...g...g.g.....g g...g.g.....g.g.g...",
"g.....g.g...g.g..... ...g.g.g.....g...g.g .g.g...g.g.....g.g.. g.....g.g.g...g..... ..g.g...g.....g.g..g .g...g.g.g...g.g.... ...g.g.....g.g...g.g g.g...g.....g...g.g.",
"..g.g...g.g.....g... g.g.....g.g...g...g. ...g...g.g.g.....g.g .g.....g...g.g.g.... g...g.g.....g.g.g... .g.g...g.....g...g.g ...g.g.g.....g.g.... g.....g.g...g.g...g.",
// row 110
"g...g.g.....g.g...g. .g.g...g.g.....g.g.. ..g.....g.g.g...g... g...g.g.g.....g...g. ...g.g.....g.g...g.g .g.....g.g.g...g.... ..g.g...g.....g.g.g. g...g.g.g.....g.....",
".g.g.....g.g.g...... g.....g...g.g.g...g. ..g.g...g.....g.g... .g.g.g.....g...g.g.. g...g.g.....g.g.g... ...g...g.g.g.....g.g .g.....g.g...g.g.... g.g...g.....g.g...g.",
"g.....g.g...g...g.g. ...g.g.g.....g.g.... .g...g...g.g.g.....g g.g.....g.g...g.g... ..g...g.g.g.....g... .g.g.....g...g.g.g.. g...g.g...g.....g.g. ..g.g.g.....g...g.g.",
"..g...g.g.....g.g.g. g.g...g.....g.g...g. ...g.g.g...g.....g.g .g.....g.g.g...g.... g...g.g.....g...g.g. ..g.g...g.g.....g.g. g.....g.g.g...g..... .g.g...g.....g.g.g..",
"g.g.....g.g.g...g... .g...g.g.....g.g...g ..g.g...g.g.....g... g.....g.g...g.g.g... ...g.g.....g.g...g.g .g...g.g.g.....g.... g.g.....g...g.g...g. ...g.g.g.....g.g...g",
".gg...g.....g.gg...g ..g...gg.....g...g.. g...g.g...gg.....g.g ...gg.....g.g...g... .g.g...gg.....g.g..g g.....g.g.g...gg.... ..g.gg.....g...g.g.. g...g...g.gg.....g.g",
"g...gg.....g...g.gg. .g.....g.gg...g...g. ..gg...g.....g.g...g g...g.g.....gg...g.. ...g.g...g.g.....gg. .gg...g.....g...g.g. g...g.gg.....g.g.... ..g...g.g...gg.....g",
"..g.g...gg.....g.g.. g...gg.....g...g.gg. .g.....g.gg...g.g... ..gg.g.....g...g.g.. g.....g.gg...g....g. ...g.g.....gg...g.g. .gg...g.g.....g...gg g...g.....g.g...gg..",
"gg.....g...g.g...gg. ..g.g...gg.....g.... g...g.....g.gg...g.g .g.gg.....g...g..... ..g...g.g...gg.....g g...gg.....g.g...g.. ...g.g...g.....gg.g. .g.....g.gg...g.g...",
"...g.gg.....g...g.g. g.....g.g...gg...... .g.g...g.....gg.g... g...g.gg.....g...g.. ..g.....g.g...g.gg.. .g...g.g.....g...g.g g.gg.....g...g...g.. ..g.g...g.g.....gg..",
// row 120
"g.....g.gg...g...g.. .g.gg.....g...g.g... ...g...g.g.....g.g.g g.....gg...g.g...... .g.g.g.....g.gg...g. ...g...g.g.....g.g.. g...g.....gg...g.g.. .g.g...g.g.....g...g",
"..g.g.....g.g...gg.. g...g.g.g.....gg.... .g.....g...g.g.g...g ...gg...g.....g.g... g.....g.g...g.g...g. ..g...g.....g.gg.... .g.g...g.g.....g.g.. g...gg.....g.g.....g",
".g...g.g...g.....g.g ..g.....g.gg...g.... g...gg.....g.g...g.. .g.g...g.....g...gg. ...g.g...g.g.....g.. g.....gg...g...g.g.. ..g.g.....g.g...g..g .gg...g.....g.g.g...",
"g...g.....g.gg...g.. .g.g...gg.....g...g. ..g...g.g.....g.g... g.....g...g.g.g...g. .gg...g.....g...g.g. ...g.g.g.....gg...g. g.....g.g...g...g.g. ..g.g.....g.gg...g..",
"..g.gg.....g...g.g.. g.....g.g...g.g..... .g.g...g.....gg...g. ...g...g.g.....g.g.g g...g.....g.gg...... ..g.g...g.....g...g. .g...gg.....g.g...g. g...g.....g.g...g..."
];

// Tick values of the axes
const eventTicks = [0, 2500, 5000, 7500, 10000, 12500, 15000, 17500, 20000];
const famAmpTicks = [0, 2000, 4000, 6000, 8000, 10000];
const vicAmpTicks = [2000, 4000, 6000, 8000];
const thresholdValue = 3500;

// Event numbers of the band envelopes
const bandEvents = [0,500,1000,1500,2000,2500,3000,3500,4000,4500,5000,5500,6000,6500,7000,7500,8000,8500,9000,9500,10000,10500,11000,11500,12000,12500,13000,13500,14000,14500,15000,15500,16000,16500,17000,17500,18000,18500,19000,19500,20000];

const famNegLow = [700,690,705,695,680,700,710,690,700,705,685,695,700,715,690,700,680,705,695,700,690,710,700,685,695,705,700,690,710,700,695,685,700,705,690,700,710,695,685,700,705];
const famNegHigh = [1310,1320,1300,1305,1330,1315,1300,1325,1310,1295,1320,1330,1305,1310,1325,1300,1335,1315,1305,1320,1310,1295,1325,1330,1305,1315,1320,1300,1310,1330,1305,1315,1295,1325,1310,1320,1335,1300,1315,1305,1310];
const vicNegLow = [930,915,935,920,905,930,940,915,925,935,905,920,930,945,915,925,905,935,920,930,910,940,925,905,920,935,925,915,940,925,920,905,930,935,915,925,940,920,905,925,935];
const vicNegHigh = [1450,1465,1440,1455,1475,1460,1440,1470,1450,1435,1465,1480,1445,1455,1470,1440,1485,1460,1445,1465,1450,1435,1470,1475,1445,1460,1465,1440,1450,1475,1445,1460,1435,1470,1450,1465,1480,1440,1460,1445,1450];

const vicPosLow = [6920,6890,6950,6870,6930,6900,6960,6880,6910,6940,6860,6920,6970,6890,6900,6950,6870,6930,6910,6880,6960,6900,6920,6860,6940,6890,6950,6910,6870,6930,6960,6880,6920,6900,6940,6860,6910,6950,6890,6930,6900];
const vicPosHigh = [7970,8010,7950,7990,8030,7960,8000,7980,7940,8020,7970,8040,7950,7990,8010,7960,8030,7980,7940,8000,7970,7950,8020,7990,7940,8010,7960,8030,7980,7950,8000,7940,7990,8020,7960,7980,8040,7950,8000,7960,7980];

// Negative droplets outside the dense part: event, amplitude
const famNegative = [269,1498,855,1517,2221,1509,1542,1471,1636,1471,355,1395,2495,1433,3120,1490,3323,1471,4393,1452,4276,1433,6517,1452,7696,1498,7962,1433,81,604,160,483,956,548,1128,540,1308,559,1503,559,1644,567,2058,453,2206,502,2596,521,2674,551,3010,604,3291,559,3799,491,4244,510,4447,510,4783,559,5197,502,5931,540,6306,483,6658,502,6978,513,7751,559,8243,483,8900,1480,9800,1510,10400,1450,11300,1495,12100,1530,12300,1470,13200,1440,14100,1490,15200,1460,16100,1500,16900,1430,17700,1480,18500,1510,19400,1460,8800,560,9700,520,10300,610,11200,490,12400,540,13100,570,14000,500,14900,590,15680,350,16400,540,17300,480,18100,560,19000,510,19700,590,500,1380,1200,1400,1900,1370,2800,1410,3700,1390,4800,1400,5500,1380,6000,1420,6900,1390,8500,1400,9300,1380,11800,1410,13700,1390,14600,1400,17100,1380,18900,1410,600,640,1800,620,3500,650,5000,630,6200,610,7300,640,9000,620,10800,650,12800,630,14400,610,15900,640,17500,620,19200,650];
const vicNegative = [150,1632,1852,1691,1696,1615,1267,1646,1150,1605,876,1587,3063,1632,3415,1622,4820,1657,5859,1681,6328,1681,6437,1681,6640,1657,6812,1622,7554,1605,8202,1691,119,773,376,755,1673,658,1032,825,2165,773,2438,807,2766,738,3415,762,4313,738,4531,738,4727,773,4914,748,5757,755,5953,721,6671,807,6890,755,7437,807,7593,727,8061,773,9000,1640,9900,1610,10700,1665,11600,1630,12500,1600,13300,1670,14200,1625,15100,1650,15900,1720,16800,1640,17600,1660,18400,1620,19300,1680,9100,780,10000,820,10900,740,11700,790,12600,760,13500,800,14400,720,15300,780,16200,750,17100,810,17900,770,18800,740,19600,800,600,1530,2600,1520,4000,1540,5200,1520,7000,1530,8600,1540,10300,1520,12000,1540,13900,1530,15500,1520,17300,1540,19000,1530,1500,860,3000,870,5000,850,6500,860,8500,870,10500,850,12200,860,14800,870,16500,850,18200,860,19800,870];

// FAM positive droplets: event, amplitude
const famPositive = [65,7150,160,8375,255,7815,450,8260,527,7885,394,7645,488,7645,433,7550,308,7405,472,7160,511,7440,566,7415,660,7425,668,8420,800,7655,831,7425,925,8205,995,8535,1058,8560,1074,8135,1034,7905,1050,7600,1167,7920,1206,7965,1183,8180,1253,8820,1308,8235,1394,8210,1308,8050,1440,8070,1440,6955,1565,9040,1542,8145,1675,8145,1628,7920,1581,7725,1605,7650,1644,8785,1714,8520,1823,8410,1847,8755,1862,7375,1901,7570,1987,7715,2026,8355,2081,8075,2190,8100,2065,7905,2120,7700,2151,7140,2260,7200,2354,7940,2440,8030,2377,7360,2401,7610,2440,7665,2518,7705,2479,8535,2635,8560,2721,8890,2729,8230,2854,8295,2768,8055,2721,7840,2729,7360,2682,7095,2964,9230,3018,7800,2901,7585,3220,8340,3338,8260,3346,8800,3362,8830,3362,7975,3424,7115,3487,7065,3424,7020,3572,8410,3627,8445,3705,8205,3713,7000,3830,6920,3815,7920,3971,8355,4080,9330,3940,8020,4166,7995,4229,8035,3940,7650,3971,7380,4080,7495,4315,7385,4369,7315,4369,7700,4463,7640,4338,8465,4354,8325,4650,8515,4643,8390,4650,7945,4588,7860,4643,7840,4471,7485,4611,7725,4752,8865,4877,7905,4885,8230,5049,7340,5088,7710,5127,7805,5088,8010,5174,8425,5236,8455,5236,8320,5174,7160,5220,7920,5306,8125,5338,7940,5361,8030,5439,8215,5439,8150,5455,7930,5564,7060,5619,8715,5697,8430,5658,8230,5681,7950,5744,7990,5799,7045,5611,7590,5658,7565,5877,8110,5971,8625,6025,7820,5978,7590,6087,7615,5986,7375,6119,7300,6205,8260,6244,7970,6267,7545,6298,7430,6384,7380,6368,8285,6595,8355,6595,8125,6595,8080,6626,7745,6767,8800,6868,7630,7017,8740,7142,8430,7157,7200,7220,7860,7235,7140,7298,7175,7345,7755,7376,7565,7423,7395,7431,8010,7470,7935,7532,7645,7634,7770,7728,8285,7790,8685,7860,7840,7923,8430,7931,8015,8000,6765,8079,6920,8063,7725,8095,8855,8196,7840,8243,7470,8298,8970,8610,8987,8282,7790,8540,7123,8798,7074,8735,7520,8884,7600,8837,7885,8423,8320,8712,8274,8704,8209,8618,8537,8923,8343,9141,8331,9196,8301,9321,9177,9141,8026,9423,7897,9282,7683,9555,7234,9563,7874,9618,7821,9555,8739,9633,8826,9602,8232,9751,7844,9829,7798,9711,7588,9868,7607,9915,7550,9883,8103,9860,8605,10079,9188,10055,7981,10157,8080,10141,7874,9985,7782,10032,7741,10079,7626,10352,7314,10211,7074,10352,7760,10477,7901,10571,7760,10422,8537,10719,7908,10899,7920,10813,8137,10938,8240,10954,8026,10844,8525,10867,8666,11141,8846,11250,8891,11227,9051,11211,8065,11133,7051,11195,7600,11414,7893,11414,7531,11406,8122,11453,8057,11500,7737,11539,8285,11555,8605,11594,8160,11617,8034,11656,6960,11664,7874,11695,7779,11758,7729,11742,8777,11851,7188,11836,7874,11914,7817,11976,7893,11867,8666,12008,9166,11969,8564,12054,8480,11953,8202,12008,8282,12133,8301,12133,8186,12148,8133,12218,8457,12234,7943,12187,7836,12234,7844,12172,7779,12148,7302,12351,7310,12500,9531,12609,7360,12625,7912,12664,7798,12679,7691,12718,8247,12734,8152,12843,8255,12757,8846,12757,8686,12898,8537,12929,7188,13101,8800,13062,7943,13187,7920,13382,8076,13413,8308,13398,8571,13452,8464,13445,7912,13530,7969,13617,8004,13538,7645,13632,6788,13741,8449,13702,7817,13796,8232,13906,7737,13913,8103,13929,7901,14015,8011,14038,7920,14030,8457,14030,6902,14108,7680,14147,8091,14147,8807,14195,8053,14241,8739,14257,8312,14257,7767,14257,6857,14366,8636,14436,9817,14405,7234,14507,7977,14632,8263,14624,8198,14670,7683,14804,8388,14796,7988,14843,7798,14811,7280,14866,7302,14897,8720,14952,8445,14936,7977,14952,8274,14983,8190,15077,7500,15108,7779,15163,7836,15296,7874,15272,7683,15265,7607,15413,7622,15498,8369,15616,8438,15647,8339,15647,7722,15647,7577,15741,8400,15678,8903,15717,9063,15835,8834,15788,8743,15725,8560,15819,8537,15788,8034,15835,8171,15881,8171,15780,7760,15913,7577,15975,7615,16084,7817,16108,7500,16163,7436,16194,8445,16194,8217,16217,7615,16287,7615,16569,8091,16655,8468,16764,9120,16787,8388,16944,8217,17014,8228,16990,8579,17029,8655,17061,8739,17037,7817,17037,8358,17146,8358,17006,7520,17170,8171,17225,9120,17248,7645,17240,7120,17334,8171,17443,8091,17443,6845,17443,5112,17607,8663,17654,7965,17756,7912,17779,7855,17717,8232,17764,9223,17904,7443,17982,7771,17998,8026,18029,8331,18060,7085,18068,8171,18139,7844,18201,9063,18240,8179,18240,7539,18302,8484,18318,8419,18420,8445,18420,8232,18474,8065,18380,7741,18435,7664,18497,7874,18630,7638,18677,7931,18685,7813,18747,8270,18747,8522,18826,8491,18857,8209,18826,7988,18865,8004,18818,7817,18826,7691,18841,7512,18943,7912,18888,8579,19037,8255,19021,7417,19115,7885,19146,7977,19123,7752,19083,7664,19294,7836,19310,8244,19380,8270,19349,8057,19388,7455,19481,7874,19700,7863,19739,7912,19833,7657,19864,7550,19880,8209,19880,7314,19981,7417,3503,4250,5806,4107,15680,4395];

// VIC positive droplets outside the dense part: event, amplitude
const vicPositive = [1946,9141,3110,9082,6718,9082,595,8879,25,8740,353,8692,650,8759,681,8624,1673,8839,1563,8704,1860,8664,2188,8799,2204,8656,2485,8839,2626,8791,2829,8735,2883,8620,3157,8696,3345,8696,3399,8851,3852,8723,4149,8883,4242,8791,4258,8676,4664,8656,4992,8735,5094,8644,5406,8851,5539,8807,5672,8735,5890,8875,5937,8696,6007,8612,6273,8708,6359,8628,6656,8914,7030,8902,7108,8799,7007,8696,7155,8624,7624,8716,8233,8791,392,5828,1509,6015,275,6237,556,6170,439,6337,470,6516,720,6428,759,6528,923,6476,1118,6416,1142,6289,1337,6329,1759,6225,1720,6388,2001,6428,2243,6281,2259,6416,2446,6178,2399,6436,2673,6376,2720,6245,2829,6225,3063,6225,3102,6158,3204,6138,3508,6217,3415,6416,3649,6337,3867,6376,4039,6444,4469,6428,4578,6257,4601,5871,4633,6050,4727,6114,5328,6050,5429,6229,5890,6090,5875,5796,5968,5891,6172,5871,6156,6357,6281,5983,6405,5999,6554,6237,6554,6150,6921,6202,6952,5835,6851,6456,7226,6337,7351,6309,7429,6070,7398,5999,7827,6209,7952,5828,8140,6357,13819,8945,14147,8810,14284,8727,13848,8685,13794,8561,14788,8883,14734,8727,14979,8595,15126,8738,14788,8502,15165,8408,15860,9091,16085,8914,15982,8800,15713,8717,15556,8651,15899,8658,15796,8571,16070,8592,15967,8502,16378,8675,16721,8689,16584,8561,16966,8571,17181,8554,17127,8478,17294,8862,17220,8779,17768,8706,18135,8633,18346,8748,18410,8658,18282,8658,18571,8540,18111,8467,19804,8821,19657,8589,19672,8505,19907,8426,19031,8589,19129,8485,19251,8478,8460,9180,8700,8820,8950,8670,9200,8890,9480,8740,9700,8610,9950,8810,10200,8690,10594,9258,10400,8780,10800,8640,11050,8840,11300,8700,11520,8610,11800,8850,12050,8730,12300,8640,12600,8890,12880,8690,13150,8760,13400,8620,13650,8840,8300,6010,8620,6230,8900,6380,9200,6150,9480,6320,9750,6040,10050,6240,10300,6020,10550,6360,10850,6120,11150,5960,11400,6290,11700,6050,12000,6220,12280,6370,12600,6140,12900,6280,13200,6060,13500,6340,13800,6190,14100,6390,14400,6090,14700,6250,15000,6150,15300,6370,15600,6220,15900,6060,16200,6310,16500,6180,16800,6340,17100,6130,17400,6270,17850,5640,18100,6220,18400,6060,18700,6340,19000,6160,19300,6010,19600,5760,19850,6290];

// VIC positive droplets close to the dense part: event, amplitude
const vicPositiveNear = [30,8120,85,8310,170,7990,215,8450,290,8080,360,8230,395,8010,470,8380,545,8150,590,8020,610,8470,700,8270,735,8050,820,8180,905,8430,940,8010,1025,8310,1070,8120,1160,8490,1200,8040,1255,8250,1345,8090,1410,8360,1460,8000,1530,8200,1620,8440,1655,8070,1750,8290,1790,8130,1885,8020,1930,8400,2010,8180,2075,8060,2150,8330,2240,8110,2275,8480,2360,8020,2425,8250,2500,8150,2590,8000,2655,8390,2700,8210,2790,8070,2870,8300,2930,8040,3000,8450,3090,8160,3180,8020,3225,8350,3300,8100,3395,8230,3450,8010,3520,8420,3610,8170,3680,8060,3730,8290,3820,8130,3890,8470,3960,8030,4040,8210,4130,8090,4200,8370,4290,8010,4340,8160,4410,8440,4490,8060,4570,8260,4640,8120,4730,8000,4800,8350,4890,8190,4970,8040,5030,8480,5110,8110,5180,8300,5270,8020,5350,8230,5420,8080,5500,8410,5590,8140,5660,8010,5740,8280,5830,8060,5900,8450,5970,8180,6040,8030,6130,8340,6210,8100,6290,8250,6360,8000,6440,8490,6520,8150,6610,8050,6680,8310,6760,8210,6850,8020,6910,8430,6990,8120,7060,8070,7150,8360,7230,8190,7310,8010,7390,8280,7470,8100,7560,8460,7640,8040,7720,8220,7800,8150,7880,8000,7970,8390,8050,8090,8130,8250,8210,8030,8290,8480,8380,8170,8460,8060,8540,8320,8630,8100,8710,8210,8790,8000,8860,8440,8950,8130,9030,8040,9110,8270,9190,8180,9280,8020,9360,8400,9440,8090,9520,8240,9610,8030,9690,8470,9770,8150,9850,8060,9930,8300,10020,8110,10100,8010,10180,8380,10270,8200,10350,8040,10420,8260,10510,8090,10590,8450,10680,8170,10750,8020,10840,8330,10920,8120,11000,8070,11090,8240,11170,8000,11250,8410,11340,8150,11420,8060,11500,8290,11590,8030,11670,8470,11750,8200,11840,8100,11920,8350,12000,8010,12090,8180,12170,8060,12250,8430,12330,8270,12420,8120,12500,8030,12590,8340,12670,8090,12750,8220,12840,8000,12920,8480,13010,8160,13080,8050,13170,8300,13260,8110,13340,8020,13420,8390,13510,8230,13590,8070,13670,8150,13750,8440,13840,8030,13920,8260,14000,8120,14090,8000,14170,8360,14250,8190,14330,8060,14410,8470,14500,8100,14580,8280,14660,8010,14750,8170,14830,8400,14910,8050,15000,8230,15080,8130,15170,8000,15250,8340,15330,8090,15410,8460,15500,8210,15580,8040,15670,8290,15750,8120,15830,8020,15920,8380,16000,8180,16080,8060,16170,8440,16250,8100,16330,8250,16420,8030,16500,8150,16580,8480,16670,8070,16750,8310,16830,8200,16920,8010,17000,8360,17080,8120,17170,8050,17250,8270,17330,8430,17420,8090,17500,8170,17580,8020,17670,8330,17750,8220,17830,8060,17920,8470,18000,8140,18080,8000,18170,8290,18250,8110,18330,8400,18420,8040,18500,8190,18580,8070,18670,8350,18750,8240,18830,8020,18920,8450,19000,8130,19080,8060,19170,8310,19250,8170,19330,8000,19420,8420,19500,8100,19580,8260,19670,8040,19750,8370,19830,8150,19920,8050,19980,8230,45,6860,110,6780,195,6840,260,6720,335,6870,410,6750,455,6660,530,6830,620,6780,690,6880,775,6720,850,6590,895,6810,970,6740,1040,6880,1130,6650,1215,6850,1285,6800,1370,6700,1445,6880,1500,6760,1580,6620,1665,6820,1745,6770,1815,6890,1900,6740,1975,6680,2050,6840,2130,6710,2215,6600,2300,6800,2345,6730,2435,6870,2520,6750,2575,6690,2660,6830,2740,6790,2825,6570,2900,6880,2960,6860,3040,6750,3130,6840,3195,6640,3280,6820,3370,6710,3440,6690,3530,6880,3600,6770,3690,6870,3770,6620,3850,6840,3910,6720,4000,6890,4075,6730,4165,6660,4240,6800,4310,6790,4400,6590,4480,6850,4550,6750,4625,6700,4715,6820,4790,6760,4860,6870,4940,6630,5020,6880,5100,6810,5190,6690,5260,6840,5340,6740,5430,6880,5510,6760,5580,6610,5670,6810,5750,6790,5820,6700,5910,6860,5990,6730,6070,6580,6140,6890,6220,6740,6310,6850,6390,6720,6470,6660,6550,6820,6630,6770,6710,6890,6790,6760,6870,6640,6950,6800,7030,6730,7110,6860,7200,6740,7270,6680,7360,6830,7440,6790,7530,6600,7600,6880,7680,6870,7770,6750,7850,6840,7920,6650,8010,6840,8090,6810,8170,6710,8260,6880,8340,6770,8420,6620,8500,6810,8590,6760,8670,6850,8750,6730,8840,6680,8920,6890,9000,6790,9090,6580,9170,6870,9250,6760,9330,6720,9420,6830,9500,6800,9580,6650,9670,6890,9750,6740,9830,6770,9920,6810,10000,6610,10080,6880,10170,6850,10250,6730,10330,6830,10420,6670,10500,6870,10580,6810,10670,6800,10750,6590,10830,6840,10920,6780,11000,6860,11080,6690,11170,6890,11250,6750,11330,6820,11420,6730,11500,6620,11580,6890,11670,6860,11750,6720,11830,6840,11920,6660,12000,6840,12080,6800,12170,6810,12250,6580,12330,6880,12420,6770,12500,6870,12580,6700,12670,6850,12750,6720,12830,6640,12920,6800,13000,6750,13080,6870,13170,6750,13250,6610,13330,6830,13420,6790,13500,6880,13580,6680,13670,6890,13750,6740,13830,6810,13920,6730,14000,6590,14080,6850,14170,6770,14250,6860,14330,6710,14420,6880,14500,6810,14580,6630,14670,6800,14750,6840,14830,6760,14920,6840,15000,6670,15080,6870,15170,6790,15250,6600,15330,6880,15420,6830,15500,6730,15580,6850,15670,6690,15750,6890,15830,6720,15920,6810,16000,6620,16080,6850,16170,6780,16250,6870,16330,6650,16420,6860,16500,6800,16580,6720,16670,6840,16750,6740,16830,6590,16920,6800,17000,6760,17080,6880,17170,6760,17250,6700,17330,6820,17420,6810,17500,6630,17580,6890,17670,6870,17750,6750,17830,6830,17920,6680,18000,6840,18080,6800,18170,6800,18250,6610,18330,6890,18420,6770,18500,6870,18580,6720,18670,6850,18750,6740,18830,6650,18920,6810,19000,6790,19080,6870,19170,6760,19250,6600,19330,6830,19420,6740,19500,6880,19580,6690,19670,6880,19750,6810,19830,6820,19920,6640,19980,6890];

// SVG dimensions
const width = 3964, height = 2582;
const svg = d3.select('#chart').attr('width', width).attr('height', height);

// Turn a flat pair list into points
function toPoints(flat) {
    return d3.range(0, flat.length, 2).map((i) => [flat[i], flat[i + 1]]);
}

// Title of the whole figure
svg.append('text')
    .attr('x', 2075).attr('y', 72)
    .attr('text-anchor', 'middle')
    .attr('font-size', 58.4).attr('font-weight', 'bold')
    .text('ddPCR Nanoplate Visualization - VAF: 4.956%');

// Function to draw the plate and its legend
function drawPlate() {
    const xScale = d3.scaleBand().domain(d3.range(160)).range([1359, 2791]);
    const yScale = d3.scaleBand().domain(d3.range(125)).range([134.8, 1230]);

    // Wildtype first, then the wells that were read one by one on top
    const wells = [];
    plateRows.forEach((row, r) => {
        row.replace(/ /g, '').split('').slice(0, 160).forEach((code, c) => {
            if (code === 'g') wells.push({ r, c, color: wellColors[2] });
        });
    });
    toPoints(mutantWells).forEach((d) => wells.push({ c: d[0], r: d[1], color: wellColors[1] }));
    toPoints(bothWells).forEach((d) => wells.push({ c: d[0], r: d[1], color: wellColors[3] }));

    svg.append('g').selectAll('rect')
        .data(wells)
        .enter()
        .append('rect')
        .attr('x', (d) => xScale(d.c))
        .attr('y', (d) => yScale(d.r))
        .attr('width', xScale.bandwidth())
        .attr('height', yScale.bandwidth())
        .attr('fill', (d) => d.color)
        .attr('shape-rendering', 'crispEdges');

    svg.append('rect')
        .attr('x', 1359).attr('y', 134.8)
        .attr('width', 1432).attr('height', 1095.2)
        .attr('fill', 'none').attr('stroke', '#fff').attr('stroke-width', 8.5);

    // Legend box
    const legend = svg.append('g');
    legend.append('rect')
        .attr('x', 2840).attr('y', 557)
        .attr('width', 481).attr('height', 251).attr('rx', 8)
        .attr('fill', '#151515').attr('stroke', '#cccccc').attr('stroke-width', 4);

    const rowY = d3.scalePoint().domain(wellLabels).range([574, 754]);
    wellLabels.forEach((label, i) => {
        legend.append('rect')
            .attr('x', 2857).attr('y', rowY(label))
            .attr('width', 83).attr('height', 30)
            .attr('fill', wellColors[i])
            .attr('stroke', label.startsWith('Both') ? '#000' : '#fff')
            .attr('stroke-width', 3);
        legend.append('text')
            .attr('x', 2974).attr('y', rowY(label) + 31)
            .attr('font-size', 41.6)
            .text(label);
    });
}

// Function to draw one channel panel
function drawChannel(p) {
    const xScale = d3.scaleLinear().domain(p.xDomain).range([p.left, p.right]);
    const yScale = d3.scaleLinear().domain(p.yDomain).range([2445, 1532]);
    const g = svg.append('g');

    // Axes carry the grid lines as their ticks
    const xAxis = d3.axisBottom(xScale).tickValues(eventTicks).tickFormat(d3.format('d'))
        .tickSize(-(2445 - 1532));
    const yAxis = d3.axisLeft(yScale).tickValues(p.yTicks).tickFormat(d3.format('d'))
        .tickSize(-(p.right - p.left));

    const xg = g.append('g').attr('transform', 'translate(0, 2445)').call(xAxis);
    const yg = g.append('g').attr('transform', `translate(${p.left}, 0)`).call(yAxis);
    [xg, yg].forEach((a) => {
        a.select('.domain').remove();
        a.selectAll('line').attr('stroke', '#1e1e1e').attr('stroke-width', 3);
        a.selectAll('text').attr('font-size', 39).attr('font-family', null).style('fill', '#fff');
    });
    xg.selectAll('text').attr('y', 45).attr('dy', 0);
    yg.selectAll('text').attr('x', -17).attr('dy', 14);

    // Negative band
    const band = (low, high) => d3.area()
        .x((d, i) => xScale(bandEvents[i]))
        .y0((d, i) => yScale(low[i]))
        .y1((d, i) => yScale(high[i]));

    g.append('path')
        .attr('d', band(p.negLow, p.negHigh)(bandEvents))
        .attr('fill', '#404040').attr('stroke', '#404040').attr('stroke-width', 5);

    g.append('g').selectAll('circle')
        .data(toPoints(p.negative))
        .enter()
        .append('circle')
        .attr('cx', (d) => xScale(d[0]))
        .attr('cy', (d) => yScale(d[1]))
        .attr('r', 5.5)
        .attr('fill', '#404040').attr('fill-opacity', 0.6);

    // Positive droplets
    if (p.posLow) {
        g.append('path')
            .attr('d', band(p.posLow, p.posHigh)(bandEvents))
            .attr('fill', p.color);
    }
    g.append('g').selectAll('circle')
        .data(toPoints(p.positive))
        .enter()
        .append('circle')
        .attr('cx', (d) => xScale(d[0]))
        .attr('cy', (d) => yScale(d[1]))
        .attr('r', 5.5)
        .attr('fill', p.color).attr('fill-opacity', 0.82);

    // Threshold line
    g.append('line')
        .attr('x1', p.left).attr('x2', p.right)
        .attr('y1', yScale(thresholdValue)).attr('y2', yScale(thresholdValue))
        .attr('stroke', '#ff0000').attr('stroke-width', 8)
        .attr('stroke-dasharray', '31 13.2');

    // Panel title and axis labels
    const mid = (p.left + p.right) / 2;
    g.append('text').attr('x', mid).attr('y', 1507)
        .attr('text-anchor', 'middle').attr('font-size', 50).attr('font-weight', 'bold')
        .text(p.title);
    g.append('text').attr('x', mid).attr('y', 2543)
        .attr('text-anchor', 'middle').attr('font-size', 42).attr('font-weight', 'bold')
        .text('Event Number');
    g.append('text')
        .attr('transform', `translate(${p.labelX}, 1987) rotate(-90)`)
        .attr('text-anchor', 'middle').attr('font-size', 42).attr('font-weight', 'bold')
        .text(p.yLabel);

    // Legend, no frame
    const keyX = p.left + 1346;
    const keys = ['Negative', 'Positive', 'Threshold'];
    keys.forEach((k, i) => {
        g.append('text').attr('x', keyX + 95).attr('y', 1585 + i * 47.5)
            .attr('font-size', 33.5).text(k);
    });
    g.append('circle').attr('cx', keyX + 33).attr('cy', 1577).attr('r', 5.5)
        .attr('fill', '#404040').attr('fill-opacity', 0.6);
    g.append('circle').attr('cx', keyX + 33).attr('cy', 1625).attr('r', 5.5)
        .attr('fill', p.color).attr('fill-opacity', 0.82);
    g.append('line')
        .attr('x1', keyX).attr('x2', keyX + 67)
        .attr('y1', 1670).attr('y2', 1670)
        .attr('stroke', '#ff0000').attr('stroke-width', 8)
        .attr('stroke-dasharray', '31 13.2');
}

drawPlate();
drawChannel({
    title: 'FAM Channel (Mutant)', yLabel: 'FAM Amplitude', labelX: 60,
    left: 215, right: 1832, xDomain: [-1000, 21000], yDomain: [-145, 10264], yTicks: famAmpTicks,
    color: '#ff00ff', negLow: famNegLow, negHigh: famNegHigh, negative: famNegative, positive: famPositive
});
drawChannel({
    title: 'VIC Channel (Wildtype)', yLabel: 'VIC Amplitude', labelX: 2186,
    left: 2317, right: 3935, xDomain: [-1014, 21000], yDomain: [183.5, 9677], yTicks: vicAmpTicks,
    color: '#00ff00', negLow: vicNegLow, negHigh: vicNegHigh, negative: vicNegative,
    positive: vicPositive.concat(vicPositiveNear),
    posLow: vicPosLow, posHigh: vicPosHigh
});
</script>
</body>
</html>
